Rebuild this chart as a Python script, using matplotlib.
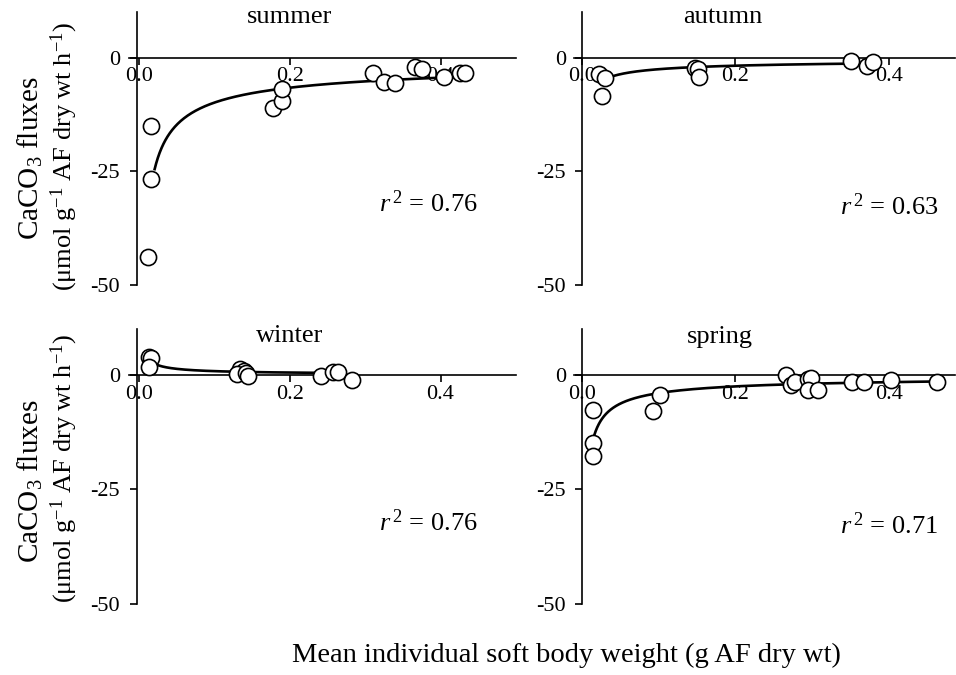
import numpy as np
import matplotlib
matplotlib.use("Agg")
import matplotlib.pyplot as plt

# CaCO3 flux vs. mean individual soft body weight, by season
seasons = ["summer", "autumn", "winter", "spring"]

summer_x = [0.0155, 0.0168, 0.0123, 0.178, 0.190, 0.190, 0.310, 0.325, 0.339, 0.366, 0.376, 0.405, 0.426, 0.433]
summer_y = [-15.0, -26.8, -43.9, -11.0, -9.6, -6.9, -3.4, -5.3, -5.5, -2.0, -2.6, -4.2, -3.4, -3.4]

autumn_x = [0.023, 0.031, 0.026, 0.148, 0.152, 0.153, 0.350, 0.372, 0.379]
autumn_y = [-3.7, -4.5, -8.4, -2.3, -2.6, -4.2, -0.8, -1.9, -1.0]

winter_x = [0.0137, 0.0160, 0.0137, 0.134, 0.139, 0.130, 0.142, 0.145, 0.242, 0.257, 0.264, 0.282]
winter_y = [4.0, 3.6, 1.8, 1.2, 0.9, 0.15, 0.4, -0.2, -0.2, 0.7, 0.7, -1.2]

spring_x = [0.0146, 0.0142, 0.0146, 0.093, 0.102, 0.266, 0.272, 0.278, 0.294, 0.298, 0.295, 0.308, 0.352, 0.367, 0.403, 0.462]
spring_y = [-7.6, -14.8, -17.6, -7.9, -4.3, 0.0, -2.2, -1.6, -1.0, -0.7, -3.3, -3.4, -1.5, -1.5, -1.1, -1.5]

# power-law fits y = a * x**b, drawn over [x_start, x_end]
fit_a = [-2.61, -0.785, 0.161, -0.873]
fit_b = [-0.58, -0.516, -0.70, -0.66]
fit_start = [0.021, 0.033, 0.016, 0.0148]
fit_end = [0.434, 0.378, 0.265, 0.462]
r2 = ["0.76", "0.63", "0.76", "0.71"]

xs = [summer_x, autumn_x, winter_x, spring_x]
ys = [summer_y, autumn_y, winter_y, spring_y]

plt.rcParams["font.family"] = "Liberation Serif"
plt.rcParams["mathtext.fontset"] = "custom"
plt.rcParams["mathtext.rm"] = "Liberation Serif"
plt.rcParams["mathtext.it"] = "Liberation Serif:italic"
plt.rcParams["mathtext.bf"] = "Liberation Serif:bold"
plt.rcParams["axes.unicode_minus"] = False

fig = plt.figure(figsize=(9.56, 6.75), dpi=100)

W, H = 956, 675
# panel boxes in pixels: left, top, right, bottom
boxes = [(129, 12, 516, 285), (574, 12, 955, 285),
         (129, 329, 516, 604), (574, 329, 955, 604)]
xlims = [(-0.013, 0.50), (-0.010, 0.486), (-0.013, 0.50), (-0.010, 0.486)]
spine_x = [-0.003, 0.001, -0.003, 0.001]
title_x = [0.2, 0.183, 0.2, 0.18]
title_y = [8.8, 8.8, 8.5, 8.3]
r2_x = [0.449, 0.464, 0.449, 0.464]
r2_y = [-32.2, -32.7, -32.2, -33.0]

for i in range(4):
    l, t, r, b = boxes[i]
    ax = fig.add_axes([l / W, 1 - b / H, (r - l) / W, (b - t) / H])
    ax.set_xlim(*xlims[i])
    ax.set_ylim(-50, 10)

    ax.spines["top"].set_visible(False)
    ax.spines["right"].set_visible(False)
    ax.spines["bottom"].set_position(("data", 0))
    ax.spines["left"].set_position(("data", spine_x[i]))
    for s in ("bottom", "left"):
        ax.spines[s].set_linewidth(1.2)

    ax.set_xticks([0.0, 0.2, 0.4])
    ax.set_xticklabels(["0.0", "0.2", "0.4"])
    ax.set_yticks([0, -25, -50])
    ax.set_yticklabels(["0", "-25", "-50"])
    ax.tick_params(axis="x", direction="out", length=5, width=1.2, pad=2, labelsize=16)
    ax.tick_params(axis="y", direction="out", length=5, width=1.2, pad=7, labelsize=16)

    xf = np.geomspace(fit_start[i], fit_end[i], 200)
    ax.plot(xf, fit_a[i] * xf ** fit_b[i], color="black", lw=1.9, zorder=3)
    ax.scatter(xs[i], ys[i], s=135, facecolor="white", edgecolor="black",
               linewidths=1.2, zorder=4, clip_on=False)

    ax.text(title_x[i], title_y[i], seasons[i], ha="center", va="center", fontsize=19)
    ax.text(r2_x[i], r2_y[i], r"$r^{\,2}$ = " + r2[i], ha="right", va="center", fontsize=19)

# shared axis labels
ylab1 = r"CaCO$_3$ fluxes"
ylab2 = r"($\mathrm{\mu}$mol g$^{-1}$ AF dry wt h$^{-1}$)"
for yc1, yc2 in ((1 - 158 / H, 1 - 156 / H), (1 - 481 / H, 1 - 468 / H)):
    fig.text(30 / W, yc1, ylab1, rotation=90, ha="center", va="center", fontsize=21)
    fig.text(64 / W, yc2, ylab2, rotation=90, ha="center", va="center", fontsize=19)

fig.text(566 / W, 1 - 655 / H, "Mean individual soft body weight (g AF dry wt)",
         ha="center", va="center", fontsize=20.5)

fig.savefig("out.png", dpi=100)
